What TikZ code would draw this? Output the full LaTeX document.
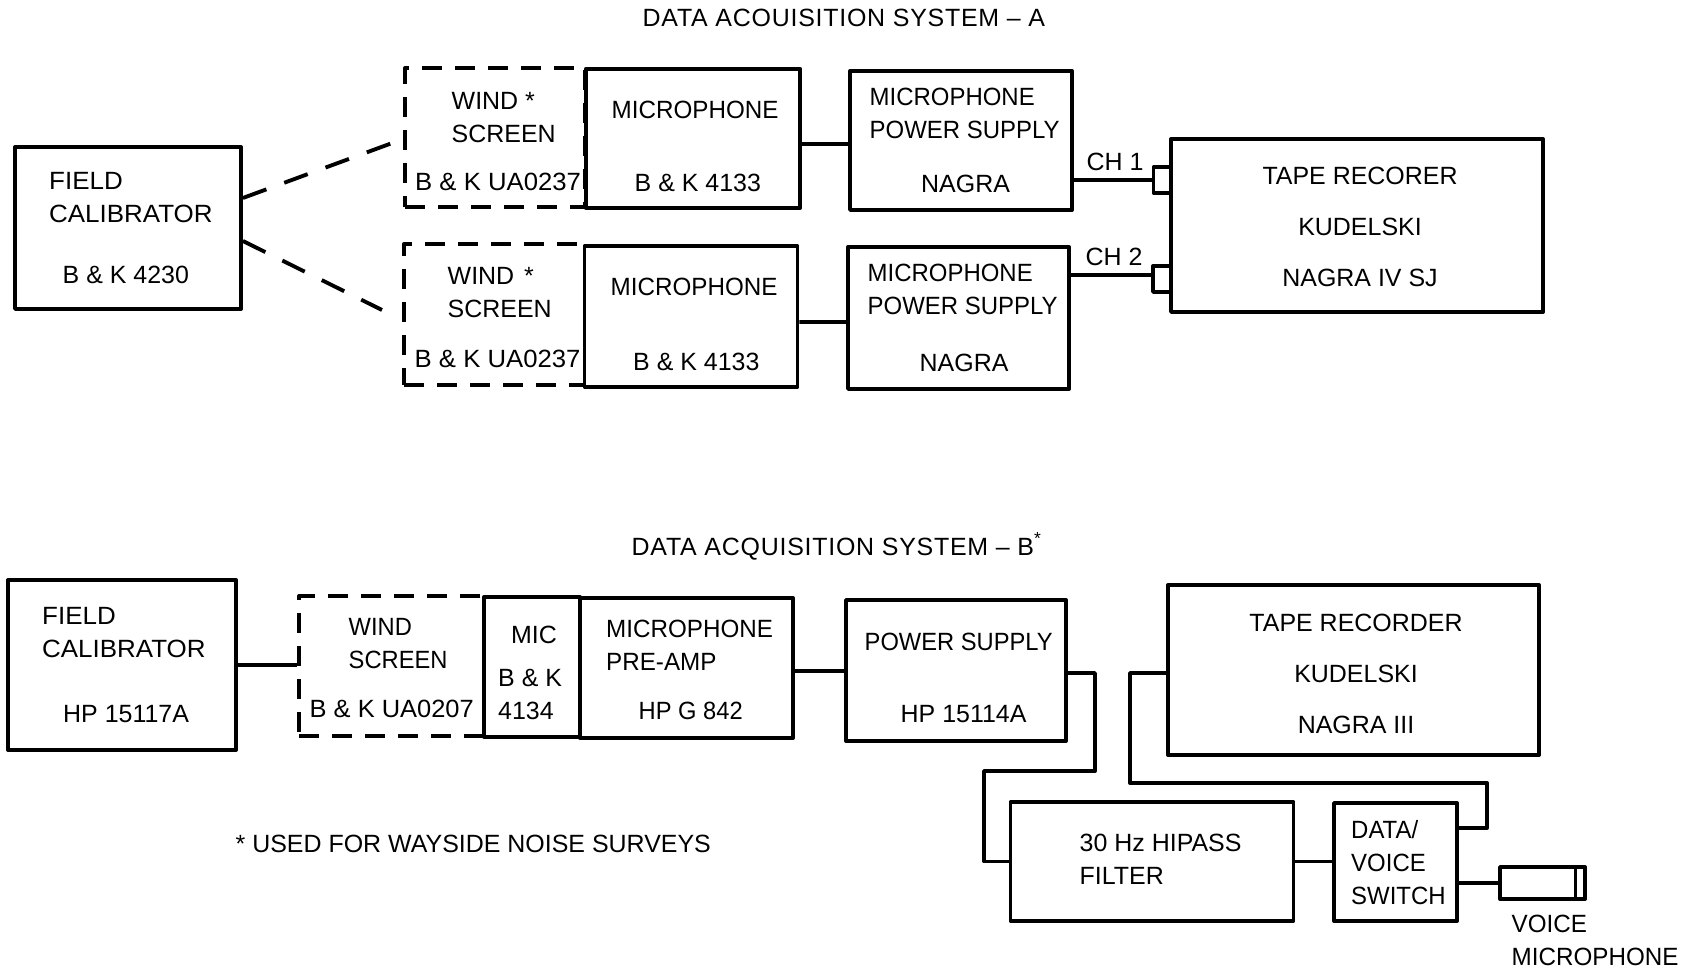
\documentclass[tikz,border=0pt]{standalone}
\usepackage{fontspec}
\setmainfont{Liberation Sans}
\usepackage{xcolor}
\usepackage{tikz}
\usetikzlibrary{arrows, positioning, calc}
\tikzset{
  box/.style = {draw, line width=1.1pt, line join=round, inner sep=0pt, fill=white},
  windbox/.style = {box, dash pattern=on 0.2cm off 0.13cm},
  wire/.style = {line width=1.1pt, line join=round},
  dashwire/.style = {line width=1.1pt, dash pattern=on 0.25cm off 0.19cm},
  lbl/.style = {inner sep=0pt, anchor=base west, align=left, font=\fontsize{7.1}{9.4}\selectfont},
  lblc/.style = {lbl, anchor=base, align=center},
  stretched/.style = {font=\fontsize{7.1}{9.4}\selectfont\addfontfeature{FakeStretch=#1}},
  titlelbl/.style = {lbl, font=\fontsize{7.1}{9.4}\selectfont\addfontfeature{LetterSpace=3}}
}

\begin{document}
\begin{tikzpicture}
\useasboundingbox (0, 0) rectangle (16.92, 9.73);

% System A
\node [box, minimum width=2.26cm, minimum height=1.62cm] (fieldA) at (1.28, 7.45) {};
\node [windbox, minimum width=1.80cm, minimum height=1.39cm] (windA1) at (4.95, 8.355) {};
\node [box, minimum width=2.145cm, minimum height=1.39cm] (micA1) at (6.93, 8.345) {};
\node [box, minimum width=2.22cm, minimum height=1.39cm] (psA1) at (9.61, 8.325) {};
\node [windbox, minimum width=1.81cm, minimum height=1.41cm] (windA2) at (4.945, 6.585) {};
\node [box, minimum width=2.13cm, minimum height=1.41cm] (micA2) at (6.91, 6.565) {};
\node [box, minimum width=2.21cm, minimum height=1.42cm] (psA2) at (9.585, 6.55) {};
\node [box, minimum width=0.18cm, minimum height=0.26cm] (plugA1) at (11.625, 7.93) {};
\node [box, minimum width=0.18cm, minimum height=0.26cm] (plugA2) at (11.62, 6.94) {};
\node [box, minimum width=3.72cm, minimum height=1.73cm] (tapeA) at (13.57, 7.475) {};

\coordinate (endA1) at (3.95, 8.31);
\coordinate (endA2) at (3.82, 6.63);
\draw [dashwire] ([yshift=3mm]fieldA.east) -- (endA1);
\draw [dashwire] ([yshift=-1.3mm]fieldA.east) -- (endA2);
\draw [wire] ([yshift=-0.55mm]micA1.east) -- ([yshift=-0.35mm]psA1.west);
\draw [wire] ([yshift=-0.55mm]micA2.east) -- ([yshift=-0.4mm]psA2.west);
\draw [wire] (plugA1.west -| psA1.east) -- (plugA1.west);
\draw [wire] ([yshift=0.4mm]plugA2.west -| psA2.east) -- ([yshift=0.4mm]plugA2.west);

% System B
\node [box, minimum width=2.28cm, minimum height=1.70cm] (fieldB) at (1.22, 3.08) {};
\node [windbox, minimum width=1.855cm, minimum height=1.40cm] (windB) at (3.92, 3.07) {};
\node [box, minimum width=0.955cm, minimum height=1.40cm] (micB) at (5.32, 3.06) {};
\node [box, minimum width=2.13cm, minimum height=1.40cm] (preamp) at (6.865, 3.05) {};
\node [box, minimum width=2.20cm, minimum height=1.41cm] (psB) at (9.56, 3.025) {};
\node [box, minimum width=3.71cm, minimum height=1.70cm] (tapeB) at (13.535, 3.03) {};
\node [box, minimum width=2.83cm, minimum height=1.19cm] (filter) at (11.52, 1.115) {};
\node [box, minimum width=1.23cm, minimum height=1.18cm] (switch) at (13.955, 1.11) {};
\node [box, minimum width=0.85cm, minimum height=0.32cm] (voicemic) at (15.425, 0.90) {};

\coordinate (jogB) at (9.84, 2.02);
\coordinate (jogC) at (14.87, 1.90);
\draw [wire] (fieldB.east) -- (fieldB.east -| windB.west);
\draw [wire] ([yshift=-0.3mm]preamp.east) -- ([yshift=-0.05mm]psB.west);
\draw [wire] ([yshift=-0.25mm]psB.east) -- ++(0.27, 0) |- (jogB) |- (filter.west);
\draw [wire] ([yshift=-0.3mm]tapeB.west) -- ++(-0.36, 0) |- (jogC) |- ([yshift=3.4mm]switch.east);
\draw [wire] (filter.east) -- (filter.east -| switch.west);
\draw [wire] (voicemic.west -| switch.east) -- (voicemic.west);
\draw [wire] ([xshift=-1.15mm]voicemic.north east) -- ([xshift=-1.15mm]voicemic.south east);

\begin{scope}[yshift=-0.05mm]
% Labels, system A
\node [titlelbl] (titleA) at (6.42, 9.47) {DATA ACOUISITION SYSTEM -- A};
\node [lbl, stretched=1.04] (fieldAname) at (0.485, 7.51) {FIELD\\CALIBRATOR};
\node [lbl] (fieldAtype) at (0.62, 6.90) {B \& K 4230};
\node [lbl] (windA1name) at (4.51, 8.31) {WIND *\\SCREEN};
\node [lbl, stretched=1.03] (windA1type) at (4.145, 7.83) {B \& K UA0237};
\node [lbl, stretched=0.97] (micA1name) at (6.11, 8.55) {MICROPHONE};
\node [lbl] (micA1type) at (6.34, 7.82) {B \& K 4133};
\node [lbl, stretched=0.96] (psA1name) at (8.69, 8.35) {MICROPHONE\\POWER SUPPLY};
\node [lbl] (psA1type) at (9.205, 7.81) {NAGRA};
\node [lbl] (chA1) at (10.86, 8.03) {CH 1};
\node [lbl] (windA2name) at (4.47, 6.56) {WIND\hspace{0.4em}*\\SCREEN};
\node [lbl, stretched=1.03] (windA2type) at (4.14, 6.06) {B \& K UA0237};
\node [lbl, stretched=0.97] (micA2name) at (6.10, 6.78) {MICROPHONE};
\node [lbl] (micA2type) at (6.325, 6.03) {B \& K 4133};
\node [lbl, stretched=0.96] (psA2name) at (8.67, 6.59) {MICROPHONE\\POWER SUPPLY};
\node [lbl] (psA2type) at (9.19, 6.02) {NAGRA};
\node [lbl] (chA2) at (10.85, 7.08) {CH 2};
\node [lblc] (tapeAname) at (13.60, 6.87) {TAPE RECORER\\[5.1pt]KUDELSKI\\[5.1pt]NAGRA IV SJ};

% Labels, system B
\node [titlelbl] (titleB) at (6.31, 4.18) {DATA ACQUISITION SYSTEM -- B\textsuperscript{*}};
\node [lbl, stretched=1.04] (fieldBname) at (0.415, 3.16) {FIELD\\CALIBRATOR};
\node [lbl] (fieldBtype) at (0.625, 2.51) {HP 15117A};
\node [lbl, stretched=0.95] (windBname) at (3.48, 3.05) {WIND\\SCREEN};
\node [lbl, stretched=1.02] (windBtype) at (3.09, 2.56) {B \& K UA0207};
\node [lbl] (micBname) at (5.105, 3.30) {MIC};
\node [lbl] (micBtype) at (4.975, 2.54) {B \& K\\4134};
\node [lbl, stretched=0.97] (preampname) at (6.055, 3.03) {MICROPHONE\\PRE-AMP};
\node [lbl, stretched=0.95] (preamptype) at (6.38, 2.54) {HP G 842};
\node [lbl, stretched=0.95] (psBname) at (8.64, 3.23) {POWER SUPPLY};
\node [lbl] (psBtype) at (9.00, 2.51) {HP 15114A};
\node [lblc] (tapeBname) at (13.56, 2.40) {TAPE RECORDER\\[5.1pt]KUDELSKI\\[5.1pt]NAGRA III};
\node [lbl] (filtername) at (10.79, 0.89) {30 Hz HIPASS\\FILTER};
\node [lbl, stretched=0.96] (switchname) at (13.505, 0.69) {DATA/\\VOICE\\SWITCH};
\node [lbl, stretched=0.97] (voicename) at (15.11, 0.08) {VOICE\\MICROPHONE};
\node [lbl] (footnote) at (2.35, 1.21) {* USED FOR WAYSIDE NOISE SURVEYS};
\end{scope}

\end{tikzpicture}
\end{document}
